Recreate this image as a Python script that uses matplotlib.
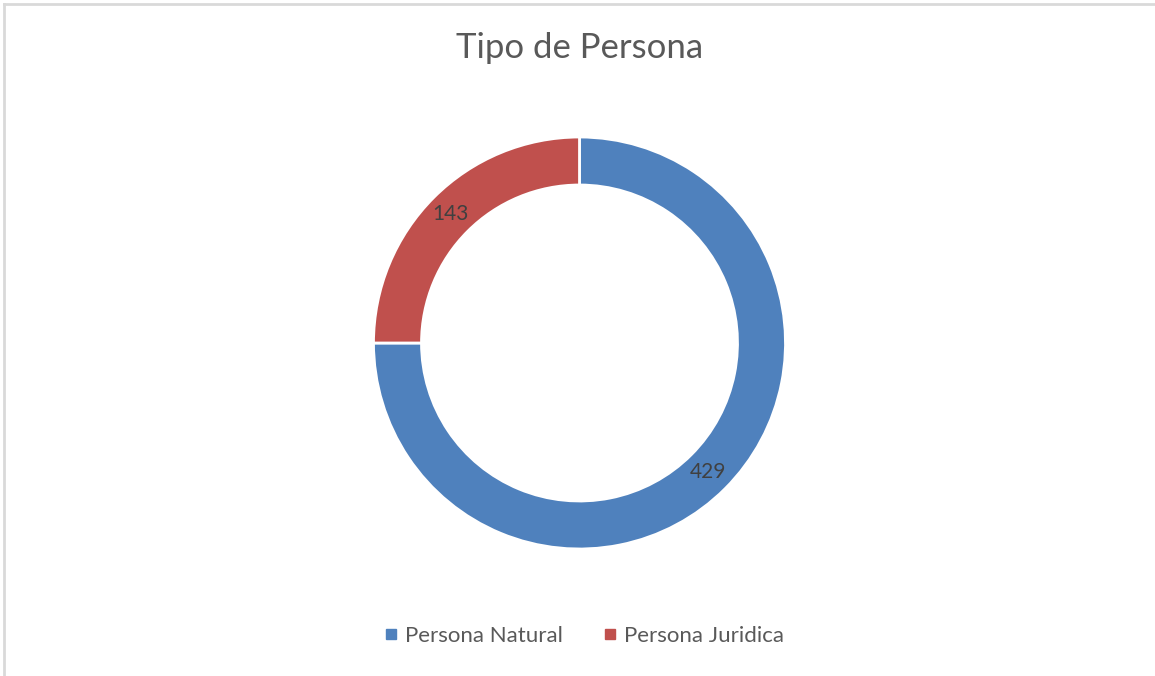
import matplotlib
matplotlib.use("Agg")
import matplotlib.pyplot as plt
from matplotlib.lines import Line2D
import numpy as np

categories = ["Persona Natural", "Persona Juridica"]
values = [429, 143]
colors = ["#4F81BD", "#C0504D"]
title = "Tipo de Persona"

W, H = 1155, 676
fig = plt.figure(figsize=(W / 100, H / 100), dpi=100)
fig.patch.set_facecolor("white")
plt.rcParams["font.family"] = ["Lato", "DejaVu Sans"]

# border (top and left visible)
fig.add_artist(Line2D([4 / W, 4 / W], [0, 1 - 4 / H], transform=fig.transFigure, color="#d9d9d9", lw=2))
fig.add_artist(Line2D([4 / W, 1], [1 - 4 / H, 1 - 4 / H], transform=fig.transFigure, color="#d9d9d9", lw=2))

cx, cy, R = 579.5, 343, 206
ax = fig.add_axes([(cx - R) / W, (H - cy - R) / H, 2 * R / W, 2 * R / H])
wedges, texts = ax.pie(values, colors=colors, startangle=90, counterclock=False, radius=1,
                       wedgeprops=dict(width=48 / 206, edgecolor="white", linewidth=2))
ax.set_xlim(-1, 1)
ax.set_ylim(-1, 1)
ax.set_aspect("equal")
ax.axis("off")

# data labels at ring middle
mid_r = 1 - 24 / 206
for w, v in zip(wedges, values):
    ang = np.deg2rad((w.theta1 + w.theta2) / 2)
    ax.text(mid_r * np.cos(ang), mid_r * np.sin(ang), str(v), ha="center", va="center",
            fontsize=15, color="#404040")

fig.text(cx / W, 1 - 48 / H, title, ha="center", va="center", fontsize=25, color="#595959",
         fontweight="normal")

handles = [Line2D([0], [0], marker="s", color="none", markerfacecolor=c, markeredgecolor=c,
                  markersize=7) for c in colors]
leg = fig.legend(handles, categories, loc="center", bbox_to_anchor=((cx + 4) / W, 1 - 636 / H), ncol=2,
                 frameon=False, fontsize=16, handlelength=0.7, handletextpad=0.25,
                 columnspacing=1.8, labelcolor="#595959")

fig.savefig("out.png", dpi=100, facecolor="white")
